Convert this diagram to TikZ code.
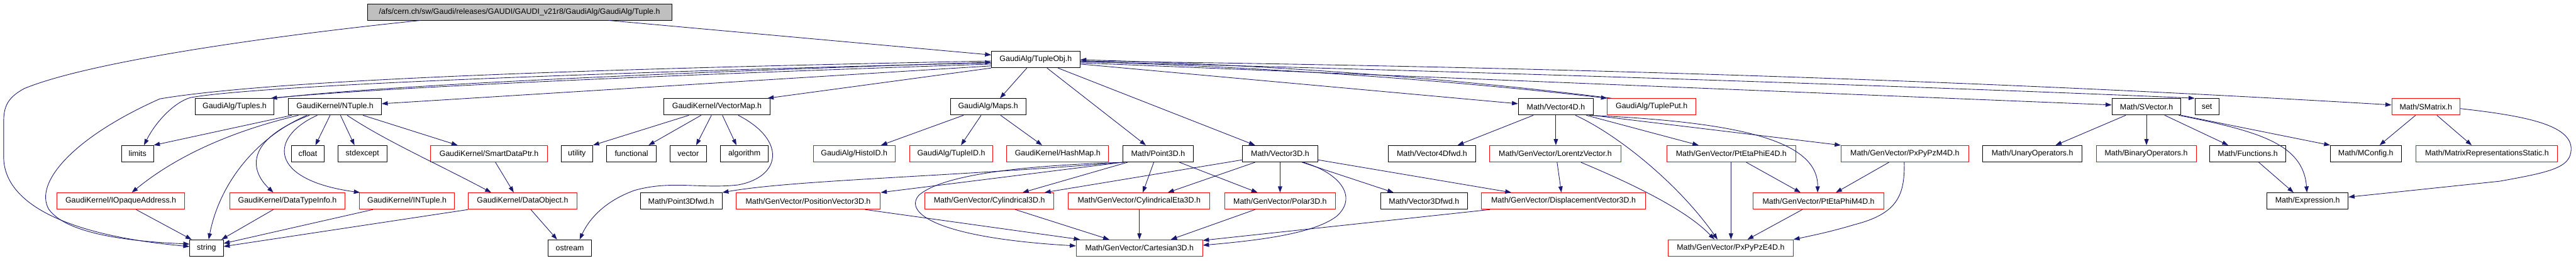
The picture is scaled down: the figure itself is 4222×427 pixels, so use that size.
\documentclass[tikz,border=0pt]{standalone}
\usepackage{fontspec}
\setmainfont{Liberation Sans}
\usetikzlibrary{arrows.meta}
\definecolor{edgec}{HTML}{191970}
\definecolor{rootfill}{HTML}{BFBFBF}
\begin{document}
\begin{tikzpicture}[x=1pt,y=-1pt,
  bx/.style={draw=black, line width=1pt, minimum height=27pt, inner sep=0pt, font=\fontsize{12.8}{14}\selectfont},
  rb/.style={bx, draw=red},
  e/.style={draw=edgec, line width=0.9pt, -{Triangle[length=10pt,width=7pt]}}]
\useasboundingbox[fill=white] (0,0) rectangle (4222,427);
% row 0
\node[bx, fill=rootfill, minimum width=499pt, minimum height=26pt] (root) at (851.5,20) {/afs/cern.ch/sw/Gaudi/releases/GAUDI/GAUDI\_v21r8/GaudiAlg/GaudiAlg/Tuple.h};
% row 1
\node[bx, minimum width=145pt] (tobj) at (1697.5,97.5) {GaudiAlg/TupleObj.h};
% row 2
\node[bx, minimum width=129pt] (tuples) at (384.5,175) {GaudiAlg/Tuples.h};
\node[bx, minimum width=152pt] (ntuple) at (549,175) {GaudiKernel/NTuple.h};
\node[bx, minimum width=175pt] (vmap) at (1175,175) {GaudiKernel/VectorMap.h};
\node[bx, minimum width=124pt] (maps) at (1619.5,175) {GaudiAlg/Maps.h};
\node[bx, minimum width=123pt] (v4d) at (2550,175) {Math/Vector4D.h};
\node[rb, minimum width=145pt] (tput) at (2707,175) {GaudiAlg/TuplePut.h};
\node[bx, minimum width=113pt] (svec) at (3518,175) {Math/SVector.h};
\node[bx, minimum width=39pt] (setn) at (3617,175) {set};
\node[rb, minimum width=112pt] (smat) at (3976,175) {Math/SMatrix.h};
% row 3
\node[bx, minimum width=52pt] (limits) at (225.5,252) {limits};
\node[bx, minimum width=53pt] (cfloat) at (504.5,252) {cfloat};
\node[bx, minimum width=80pt] (stdexc) at (594,252) {stdexcept};
\node[rb, minimum width=191pt] (sdp) at (801.5,252) {GaudiKernel/SmartDataPtr.h};
\node[bx, minimum width=52pt] (utility) at (945.5,252) {utility};
\node[bx, minimum width=81pt] (functional) at (1035,252) {functional};
\node[bx, minimum width=60pt] (vec) at (1128,252) {vector};
\node[bx, minimum width=78pt] (algorithm) at (1220,252) {algorithm};
\node[rb, minimum width=134pt] (histoid) at (1400,252) {GaudiAlg/HistoID.h};
\node[rb, minimum width=137pt] (tupleid) at (1559,252) {GaudiAlg/TupleID.h};
\node[rb, minimum width=167pt] (hashmap) at (1733.5,252) {GaudiKernel/HashMap.h};
\node[bx, minimum width=115pt] (p3d) at (1898,252) {Math/Point3D.h};
\node[bx, minimum width=123pt] (v3d) at (2098,252) {Math/Vector3D.h};
\node[bx, minimum width=143pt] (v4dfwd) at (2347,252) {Math/Vector4Dfwd.h};
\node[rb, minimum width=215pt] (lorentz) at (2549,252) {Math/GenVector/LorentzVector.h};
\node[rb, minimum width=212pt] (ptepe) at (2837.5,252) {Math/GenVector/PtEtaPhiE4D.h};
\node[rb, minimum width=209pt] (pxpypzm) at (3122,252) {Math/GenVector/PxPyPzM4D.h};
\node[bx, minimum width=163pt] (unary) at (3331,252) {Math/UnaryOperators.h};
\node[rb, minimum width=164pt] (binary) at (3517.5,252) {Math/BinaryOperators.h};
\node[bx, minimum width=124pt] (functions) at (3684,252) {Math/Functions.h};
\node[bx, minimum width=116pt] (mconfig) at (3877.5,252) {Math/MConfig.h};
\node[rb, minimum width=232pt] (mrep) at (4076,252) {Math/MatrixRepresentationsStatic.h};
% row 4
\node[rb, minimum width=210pt] (iopaque) at (198,329.5) {GaudiKernel/IOpaqueAddress.h};
\node[rb, minimum width=188pt] (dti) at (471,329.5) {GaudiKernel/DataTypeInfo.h};
\node[rb, minimum width=156pt] (intuple) at (667,329.5) {GaudiKernel/INTuple.h};
\node[rb, minimum width=178pt] (dobj) at (856.5,329.5) {GaudiKernel/DataObject.h};
\node[bx, minimum width=134pt] (p3dfwd) at (1116.5,329.5) {Math/Point3Dfwd.h};
\node[rb, minimum width=237pt] (posv) at (1324.5,329.5) {Math/GenVector/PositionVector3D.h};
\node[rb, minimum width=212pt] (cyl) at (1621.5,329.5) {Math/GenVector/Cylindrical3D.h};
\node[rb, minimum width=232pt] (cyleta) at (1867,329.5) {Math/GenVector/CylindricalEta3D.h};
\node[rb, minimum width=181pt] (polar) at (2098,329.5) {Math/GenVector/Polar3D.h};
\node[bx, minimum width=143pt] (v3dfwd) at (2334,329.5) {Math/Vector3Dfwd.h};
\node[rb, minimum width=269pt] (disp) at (2562.5,329.5) {Math/GenVector/DisplacementVector3D.h};
\node[rb, minimum width=214pt] (ptepm) at (2980.5,329.5) {Math/GenVector/PtEtaPhiM4D.h};
\node[bx, minimum width=133pt] (expr) at (3782,329.5) {Math/Expression.h};
% row 5
\node[bx, minimum width=55pt] (strn) at (338.5,406.5) {string};
\node[bx, minimum width=71pt] (ostream) at (934,406.5) {ostream};
\node[rb, minimum width=207pt] (cart) at (1867.5,406.5) {Math/GenVector/Cartesian3D.h};
\node[rb, minimum width=205pt] (pxpypze) at (2836.5,406.5) {Math/GenVector/PxPyPzE4D.h};

% root edges
\draw[e] (root.south -| 689,0) .. controls (450,58) and (150,100) .. (40,145) .. controls (12,160) and (6,175) .. (6,200) -- (6,257) .. controls (6,330) and (100,385) .. (strn.west |- 0,404);
\draw[e] (root.south -| 998,0) -- (tobj.west |- 0,90);
% TupleObj left
\draw[e] (tobj.west |- 0,100) .. controls (1000,112) and (450,130) .. (262,162) .. controls (120,225) and (55,300) .. (80,343) .. controls (110,385) and (220,396) .. (strn.west |- 0,400);
\draw[e] (tobj.west |- 0,103) .. controls (1000,118) and (420,140) .. (312,160) .. controls (285,168) and (255,200) .. (limits.north -| 236,0);
\draw[e] (tobj.west |- 0,105) .. controls (1000,126) and (600,146) .. (tuples.north -| 444,0);
\draw[e] (tuples.north -| 449,0) .. controls (600,143) and (1000,122) .. (tobj.west |- 0,102);
\draw[e] (tobj.west |- 0,108) -- (ntuple.east |- 0,170);
\draw[e] (tobj.south west) -- (vmap.north -| 1258,0);
% TupleObj down
\draw[e] (tobj.south -| 1683,0) -- (maps.north -| 1639,0);
\draw[e] (tobj.south -| 1716,0) -- (p3d.north -| 1878,0);
\draw[e] (tobj.south -| 1734,0) -- (v3d.north -| 2057,0);
% TupleObj right
\draw[e] (tobj.east |- 0,105) -- (v4d.west |- 0,170);
\draw[e] (tobj.east |- 0,101) .. controls (2150,112) and (2450,140) .. (tput.north west);
\draw[e] (tput.north -| 2641,0) .. controls (2450,137) and (2150,108) .. (tobj.east |- 0,98);
\draw[e] (tobj.east |- 0,103) -- (svec.west |- 0,172);
\draw[e] (tobj.east |- 0,101) .. controls (2600,122) and (3300,148) .. (setn.north west);
\draw[e] (tobj.east |- 0,100) .. controls (2600,110) and (3300,135) .. (smat.west |- 0,172);
% NTuple
\draw[e] (ntuple.south -| 478,0) -- (limits.north east);
\draw[e] (ntuple.south -| 489,0) .. controls (380,215) and (290,255) .. (iopaque.north -| 216,0);
\draw[e] (ntuple.south -| 503,0) .. controls (420,225) and (360,300) .. (strn.north -| 342,0);
\draw[e] (ntuple.south -| 507,0) .. controls (400,230) and (410,280) .. (dti.north -| 448,0);
\draw[e] (ntuple.south -| 520,0) .. controls (440,225) and (440,295) .. (intuple.north -| 590,0);
\draw[e] (ntuple.south -| 541,0) -- (cfloat.north -| 517,0);
\draw[e] (ntuple.south -| 558,0) -- (stdexc.north -| 581,0);
\draw[e] (ntuple.south -| 595,0) -- (sdp.north -| 750,0);
\draw[e] (ntuple.south -| 569,0) .. controls (630,230) and (720,270) .. (dobj.north -| 805,0);
% to string
\draw[e] (iopaque.south -| 223,0) -- (strn.north -| 314,0);
\draw[e] (dti.south -| 448,0) -- (strn.north -| 363,0);
\draw[e] (intuple.south -| 611,0) -- (strn.east |- 0,399);
\draw[e] (dobj.south west) -- (strn.east |- 0,404);
% DataObject etc
\draw[e] (sdp.south -| 812,0) -- (dobj.north -| 842,0);
\draw[e] (dobj.south -| 870,0) -- (ostream.north -| 913,0);
\draw[e] (vmap.south -| 1210,0) .. controls (1290,230) and (1280,290) .. (1210,303) .. controls (1150,310) and (1100,295) .. (1040,312) .. controls (990,330) and (965,360) .. (ostream.north -| 950,0);
\draw[e] (vmap.south -| 1129,0) -- (utility.north east);
\draw[e] (vmap.south -| 1149,0) -- (functional.north -| 1063,0);
\draw[e] (vmap.south -| 1166,0) -- (vec.north -| 1141,0);
\draw[e] (vmap.south -| 1184,0) -- (algorithm.north -| 1207,0);
% Maps
\draw[e] (maps.south -| 1579,0) -- (histoid.north -| 1444,0);
\draw[e] (maps.south -| 1608,0) -- (tupleid.north -| 1575,0);
\draw[e] (maps.south -| 1640,0) -- (hashmap.north -| 1708,0);
% Point3D
\draw[e] (p3d.south west) .. controls (1550,290) and (1300,295) .. (p3dfwd.north east);
\draw[e] (p3d.south west) -- (posv.north east);
\draw[e] (p3d.south -| 1848,0) -- (cyl.north -| 1676,0);
\draw[e] (p3d.south -| 1891,0) -- (cyleta.north -| 1873,0);
\draw[e] (p3d.south -| 1933,0) -- (polar.north -| 2061,0);
\draw[e] (p3d.south -| 1843,0) .. controls (1650,272) and (1540,290) .. (1506,320) .. controls (1480,350) and (1540,390) .. (cart.west |- 0,403);
% Vector3D
\draw[e] (v3d.west |- 0,262) -- (cyl.north -| 1712,0);
\draw[e] (v3d.south -| 2057,0) -- (cyleta.north -| 1914,0);
\draw[e] (v3d.south -| 2098,0) -- (polar.north -| 2098,0);
\draw[e] (v3d.south -| 2134,0) -- (v3dfwd.north -| 2284,0);
\draw[e] (v3d.east |- 0,262) -- (disp.north -| 2477,0);
\draw[e] (v3d.south -| 2136,0) .. controls (2200,285) and (2225,325) .. (2190,355) .. controls (2150,385) and (2050,395) .. (cart.east |- 0,402);
% to Cartesian3D
\draw[e] (disp.south -| 2442,0) -- (cart.east |- 0,394);
\draw[e] (cyl.south -| 1664,0) -- (cart.north -| 1818,0);
\draw[e] (cyleta.south -| 1867.5,0) -- (cart.north -| 1867.5,0);
\draw[e] (polar.south -| 2057,0) -- (cart.north -| 1919,0);
\draw[e] (posv.south -| 1418,0) -- (cart.north -| 1770,0);
% Vector4D
\draw[e] (v4d.south -| 2513,0) -- (v4dfwd.north -| 2389,0);
\draw[e] (v4d.south -| 2550,0) -- (lorentz.north -| 2550,0);
\draw[e] (v4d.south -| 2582,0) .. controls (2650,220) and (2750,300) .. (pxpypze.north -| 2815,0);
\draw[e] (v4d.south -| 2600,0) -- (ptepe.north -| 2784,0);
\draw[e] (v4d.south -| 2605,0) .. controls (2850,200) and (2980,230) .. (ptepm.north -| 2979,0);
\draw[e] (v4d.south -| 2610,0) -- (pxpypzm.north west);
% LorentzVector
\draw[e] (lorentz.south -| 2552,0) -- (disp.north -| 2559,0);
\draw[e] (lorentz.south -| 2591,0) .. controls (2660,295) and (2760,340) .. (pxpypze.north -| 2810,0);
% 4D coords
\draw[e] (ptepe.south -| 2837,0) -- (pxpypze.north -| 2837,0);
\draw[e] (ptepe.south -| 2862,0) -- (ptepm.north -| 2951,0);
\draw[e] (pxpypzm.south -| 3096,0) -- (ptepm.north -| 3009,0);
\draw[e] (pxpypzm.south -| 3121,0) .. controls (3122,320) and (3110,350) .. (3040,368) .. controls (3000,380) and (2970,386) .. (pxpypze.north east);
\draw[e] (ptepm.south -| 2954,0) -- (pxpypze.north -| 2864,0);
% SVector
\draw[e] (svec.south -| 3484,0) -- (unary.north -| 3369,0);
\draw[e] (svec.south -| 3518,0) -- (binary.north -| 3518,0);
\draw[e] (svec.south -| 3548,0) -- (functions.north -| 3652,0);
\draw[e] (svec.south east) -- (mconfig.north west);
\draw[e] (svec.south -| 3571,0) .. controls (3700,215) and (3775,235) .. (expr.north -| 3781,0);
\draw[e] (functions.south -| 3702,0) -- (expr.north -| 3759,0);
% SMatrix
\draw[e] (smat.south -| 3959,0) -- (mconfig.north -| 3900,0);
\draw[e] (smat.south -| 3994,0) -- (mrep.north -| 4051,0);
\draw[e] (smat.east |- 0,178) .. controls (4140,190) and (4215,205) .. (4214,245) .. controls (4213,275) and (4180,282) .. (4097,297) -- (expr.east |- 0,323);
\end{tikzpicture}
\end{document}
